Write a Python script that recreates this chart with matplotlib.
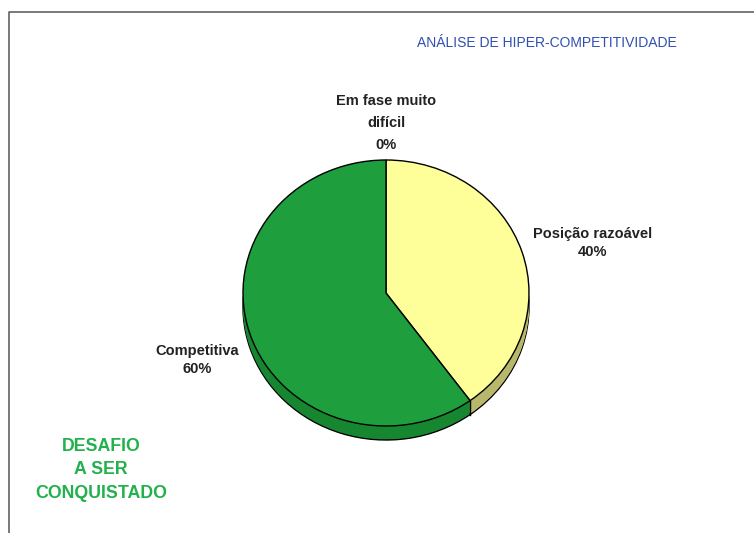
import numpy as np
import matplotlib.pyplot as plt
from matplotlib.transforms import Affine2D

plt.rcParams['font.family'] = ['Liberation Sans', 'DejaVu Sans']

# dados da análise
categorias = ["Em fase muito\ndifícil", "Posição razoável", "Competitiva"]
valores = [0, 40, 60]
cores_topo = ['#e0e060', '#ffff99', '#1e9e3c']
cores_lado = ['#b0b050', '#b8b86c', '#178630']

W, H = 754, 533
cx, cy = 386, H - 293      # centro do disco (pixels)
rx = 143                   # raio horizontal
k = 133 / 143              # achatamento vertical
prof = 14                  # espessura do disco

fig = plt.figure(figsize=(W / 100, H / 100), dpi=100)
ax = fig.add_axes([0, 0, 1, 1])

# moldura
ax.plot([9, 9, W], [0, H - 12, H - 12], color='#555555', lw=1.1)


def achata(dy):
    return Affine2D().translate(-cx, -cy).scale(1, k).translate(cx, cy + dy) + ax.transData


# lateral do disco: várias cópias empilhadas
for i, d in enumerate(np.arange(-prof, 0, 1.0)):
    ec = 'black' if i == 0 else 'none'
    fatias, _ = ax.pie(valores, colors=cores_lado, startangle=90, counterclock=False,
                       radius=rx, center=(cx, cy), frame=True,
                       wedgeprops=dict(edgecolor=ec, linewidth=1.0))
    for f in fatias:
        f.set_transform(achata(d))

# face de cima
fatias, _ = ax.pie(valores, colors=cores_topo, startangle=90, counterclock=False,
                   radius=rx, center=(cx, cy), frame=True,
                   wedgeprops=dict(edgecolor='black', linewidth=1.0))
for f in fatias:
    f.set_transform(achata(0))

ax.set_xlim(0, W)
ax.set_ylim(0, H)
ax.set_aspect('auto')
ax.axis('off')

# linhas verticais da lateral nas divisões visíveis
total = sum(valores)
ang = 90.0
for v in valores:
    ang -= 360.0 * v / total
    a = np.radians(ang)
    if np.sin(a) < 0:
        x = cx + rx * np.cos(a)
        y = cy + rx * k * np.sin(a)
        ax.plot([x, x], [y, y - prof], color='black', lw=1.0)

# rótulos
ang = 90.0
dist_x = [1.0, 1.52, 1.39]
dist_y = [1.28, 1.22, 1.63]
esp = [1.72, 1.3, 1.35]
for nome, v, fx, fy, ls in zip(categorias, valores, dist_x, dist_y, esp):
    meio = np.radians(ang - 180.0 * v / total)
    ang -= 360.0 * v / total
    x = cx + fx * rx * np.cos(meio)
    y = cy + fy * rx * k * np.sin(meio)
    ax.text(x, y, f"{nome}\n{v}%", ha='center', va='center', fontsize=10.5,
            fontweight='bold', color='#222222', linespacing=ls)

ax.text(547, H - 43, "ANÁLISE DE HIPER-COMPETITIVIDADE", ha='center', va='center',
        fontsize=10, color='#3050b0')
ax.text(101, H - 470, "DESAFIO\nA SER\nCONQUISTADO", ha='center', va='center',
        fontsize=12.8, fontweight='bold', color='#22b14c', linespacing=1.5)

fig.savefig('out.png', dpi=100)
